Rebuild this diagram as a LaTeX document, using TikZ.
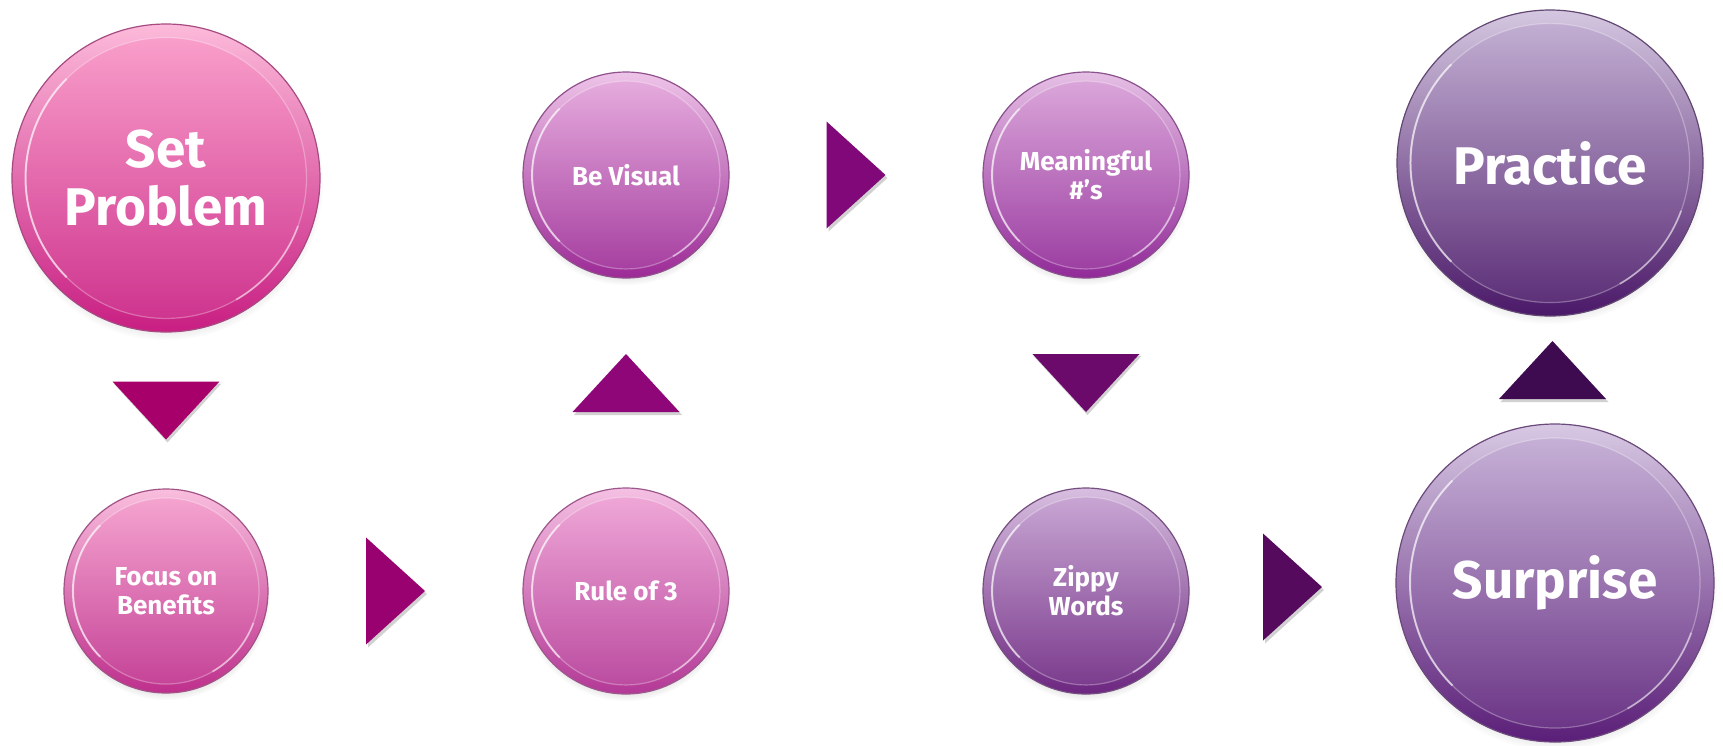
\documentclass[tikz,border=0pt]{standalone}
\usepackage{fontspec}
\setmainfont{Fira Sans}
\usetikzlibrary{calc,shadows}
\definecolor{spT}{HTML}{FBA3CD}\definecolor{spB}{HTML}{C81E82}
\definecolor{fbT}{HTML}{F7A8D2}\definecolor{fbB}{HTML}{BE2F8C}
\definecolor{roT}{HTML}{F1ABD9}\definecolor{roB}{HTML}{B33896}
\definecolor{bvT}{HTML}{E8B0E0}\definecolor{bvB}{HTML}{9C2A96}
\definecolor{mnT}{HTML}{DDAADC}\definecolor{mnB}{HTML}{912A98}
\definecolor{zwT}{HTML}{CBAAD6}\definecolor{zwB}{HTML}{6C2680}
\definecolor{prT}{HTML}{C6B4D6}\definecolor{prB}{HTML}{4A1868}
\definecolor{suT}{HTML}{CAB6DA}\definecolor{suB}{HTML}{5A1E78}
\definecolor{a1}{HTML}{A8006A}\definecolor{a2}{HTML}{990070}
\definecolor{a3}{HTML}{8E0678}\definecolor{a4}{HTML}{800878}
\definecolor{a5}{HTML}{6C0A6C}\definecolor{a6}{HTML}{560A5E}
\definecolor{a7}{HTML}{3E0A50}
\tikzset{
  x=1pt, y=-1pt,
  btn/.style n args={3}{circle, inner sep=0pt, minimum size=#1,
    top color=#2!75!white, bottom color=#3, draw=#3!55!gray, line width=1.2pt,
    text=white, align=center, font=\bfseries,
    circular drop shadow={shadow xshift=0pt, shadow yshift=-5pt, shadow scale=1.02, opacity=0.35},
    path picture={
      \shade[top color=#2, bottom color=#3!92!white]
        (path picture bounding box.center) circle ({#1*0.456});
      \draw[white, opacity=0.3, line width=1.2pt]
        (path picture bounding box.center) circle ({#1*0.456});
      \draw[white, opacity=0.6, line width=2pt]
        ($(path picture bounding box.center)+(135:{#1*0.456})$)
        arc[start angle=135, end angle=225, radius={#1*0.456}];
      \draw[white, opacity=0.45, line width=1.8pt]
        ($(path picture bounding box.center)+(-20:{#1*0.456})$)
        arc[start angle=-20, end angle=-60, radius={#1*0.456}];
    }},
  big/.style={font=\bfseries\fontsize{53}{58}\selectfont},
  small/.style={font=\bfseries\fontsize{26}{29}\selectfont},
  tshadow/.style={fill=black, opacity=0.18},
}
\newcommand\tridown[2]{%
  \fill[tshadow] ($(#1)+(-52.5,-27)$) -- ($(#1)+(55.5,-27)$) -- ($(#1)+(1.5,32)$) -- cycle;
  \fill[#2] ($(#1)+(-53.5,-29)$) -- ($(#1)+(53.5,-29)$) -- ($(#1)+(0,29)$) -- cycle;}
\newcommand\triup[2]{%
  \fill[tshadow] ($(#1)+(-52,32)$) -- ($(#1)+(56,32)$) -- ($(#1)+(2,-26)$) -- cycle;
  \fill[#2] ($(#1)+(-53.5,29)$) -- ($(#1)+(53.5,29)$) -- ($(#1)+(0,-29)$) -- cycle;}
\newcommand\triright[2]{%
  \fill[tshadow] ($(#1)+(-27.5,-51.5)$) -- ($(#1)+(-27.5,56.5)$) -- ($(#1)+(31.5,3)$) -- cycle;
  \fill[#2] ($(#1)+(-29.5,-53.5)$) -- ($(#1)+(-29.5,53.5)$) -- ($(#1)+(29.5,0)$) -- cycle;}
\begin{document}
\begin{tikzpicture}
\useasboundingbox[fill=white] (0,0) rectangle (1723,745);
% buttons
\node[btn={308pt}{spT}{spB}, big] (sp) at (166,178) {Set\\Problem};
\node[btn={204pt}{fbT}{fbB}, small] (fb) at (166,591) {Focus on\\Benefits};
\node[btn={206pt}{roT}{roB}, small] (ro) at (626,591) {Rule of 3};
\node[btn={206pt}{bvT}{bvB}, small] (bv) at (626,175) {Be Visual};
\node[btn={206pt}{mnT}{mnB}, small] (mn) at (1086,175) {Meaningful\\\#’s};
\node[btn={206pt}{zwT}{zwB}, small] (zw) at (1086,591) {Zippy\\Words};
\node[btn={306pt}{prT}{prB}, big] (pr) at (1550,163) {Practice};
\node[btn={318pt}{suT}{suB}, big] (su) at (1555,583) {Surprise};
% connector arrows
\coordinate (t1) at ($(sp.south)!0.5!(fb.north)$);
\coordinate (t2) at ($(fb.east)!0.5!(ro.west)$);
\coordinate (t3) at ($(ro.north)!0.5!(bv.south)$);
\coordinate (t4) at ($(bv.east)!0.5!(mn.west)$);
\coordinate (t5) at ($(mn.south)!0.5!(zw.north)$);
\coordinate (t6) at ($(zw.east)!0.5!(su.west)$);
\coordinate (t7) at ($(su.north)!0.5!(pr.south)$);
\tridown{t1}{a1}
\triright{t2}{a2}
\triup{t3}{a3}
\triright{t4}{a4}
\tridown{t5}{a5}
\triright{t6}{a6}
\triup{t7}{a7}
\end{tikzpicture}
\end{document}
